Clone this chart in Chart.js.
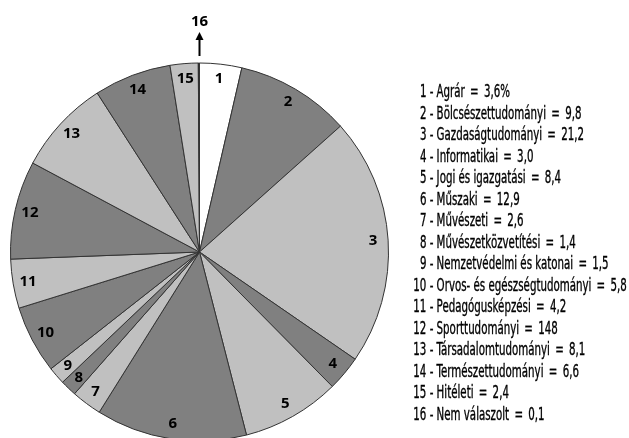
<!DOCTYPE html>
<html>
<head>
<meta charset="utf-8">
<script src="https://cdn.jsdelivr.net/npm/chart.js"></script>
<style>
  html, body { margin: 0; padding: 0; background: #fff; overflow: hidden; width: 629px; height: 438px; }
  #wrap { position: relative; width: 629px; height: 438px; }
  #pie { position: absolute; left: 0; top: 0; }
  #legend {
    position: absolute; left: 413px; top: 81px;
    font-family: "DejaVu Sans Condensed", "Liberation Sans Narrow", sans-serif;
    font-size: 17px; line-height: 21.5px; color: #000;
    -webkit-text-stroke: 0.35px #000;
    transform: scaleX(0.67); transform-origin: 0 0; white-space: nowrap;
  }
  #legend .num { display: inline-block; width: 20px; text-align: right; }
  #legend .eq { margin: 0 3px; }
</style>
</head>
<body>
<div id="wrap">
  <canvas id="pie" width="629" height="504"></canvas>
  <div id="legend"></div>
</div>
<script>
// Slice numbers, names and the values shown in the legend
const sliceNumbers = ["1", "2", "3", "4", "5", "6", "7", "8", "9", "10", "11", "12", "13", "14", "15", "16"];
const categoryNames = [
  "Agrár", "Bölcsészettudományi", "Gazdaságtudományi", "Informatikai",
  "Jogi és igazgatási", "Műszaki", "Művészeti", "Művészetközvetítési",
  "Nemzetvédelmi és katonai", "Orvos- és egészségtudományi", "Pedagógusképzési",
  "Sporttudományi", "Társadalomtudományi", "Természettudományi", "Hitéleti", "Nem válaszolt"
];
const legendValues = ["3,6%", "9,8", "21,2", "3,0", "8,4", "12,9", "2,6", "1,4", "1,5", "5,8", "4,2", "148", "8,1", "6,6", "2,4", "0,1"];

// Slice sizes as drawn in the picture (percent)
const sliceValues = [3.6, 9.8, 21.2, 3.0, 8.4, 12.9, 2.6, 1.4, 1.5, 5.8, 4.2, 8.4, 8.1, 6.6, 2.4, 0.1];

// Fill colours: first slice white, then alternating dark / light grey, last one black
const sliceColors = [
  "#ffffff", "#808080", "#c0c0c0", "#808080", "#c0c0c0", "#808080", "#c0c0c0", "#808080",
  "#c0c0c0", "#808080", "#c0c0c0", "#808080", "#c0c0c0", "#808080", "#c0c0c0", "#000000"
];

// Build legend text
const legend = document.getElementById("legend");
sliceNumbers.forEach((n, i) => {
  const row = document.createElement("div");
  row.innerHTML = '<span class="num">' + n + '</span> - ' + categoryNames[i] +
    ' <span class="eq">=</span> ' + legendValues[i];
  legend.appendChild(row);
});

// Plugin: number labels inside the slices, plus the arrow for slice 16
const sliceLabels = {
  id: "sliceLabels",
  afterDatasetsDraw(chart) {
    const ctx = chart.ctx;
    const arcs = chart.getDatasetMeta(0).data;
    ctx.save();
    ctx.font = "bold 15px 'Noto Sans', 'Open Sans', sans-serif";
    ctx.fillStyle = "#000";
    ctx.textAlign = "center";
    ctx.textBaseline = "middle";
    arcs.forEach((arc, i) => {
      const p = arc.getProps(["x", "y", "startAngle", "endAngle", "outerRadius"], true);
      if (i === arcs.length - 1) {
        // tiny slice: label above the pie with an arrow
        const top = p.y - p.outerRadius;
        ctx.strokeStyle = "#000";
        ctx.lineWidth = 2;
        ctx.beginPath();
        ctx.moveTo(p.x, top - 7);
        ctx.lineTo(p.x, top - 24);
        ctx.stroke();
        ctx.beginPath();
        ctx.moveTo(p.x, top - 31);
        ctx.lineTo(p.x - 4, top - 23);
        ctx.lineTo(p.x + 4, top - 23);
        ctx.closePath();
        ctx.fill();
        ctx.fillText(sliceNumbers[i], p.x, top - 41);
        return;
      }
      const mid = (p.startAngle + p.endAngle) / 2;
      const r = p.outerRadius - 15;
      ctx.fillText(sliceNumbers[i], p.x + Math.cos(mid) * r, p.y + Math.sin(mid) * r);
    });
    ctx.restore();
  }
};

new Chart(document.getElementById("pie").getContext("2d"), {
  type: "pie",
  data: {
    labels: categoryNames,
    datasets: [
      {
        data: sliceValues,
        backgroundColor: sliceColors,
        borderColor: "#333333",
        borderWidth: 1,
        radius: 189,
      },
    ],
  },
  options: {
    responsive: false,
    animation: false,
    layout: { padding: { left: 0, top: 0, right: 230, bottom: 0 } },
    plugins: {
      legend: { display: false },
      tooltip: { enabled: false },
    },
  },
  plugins: [sliceLabels],
});
</script>
</body>
</html>
